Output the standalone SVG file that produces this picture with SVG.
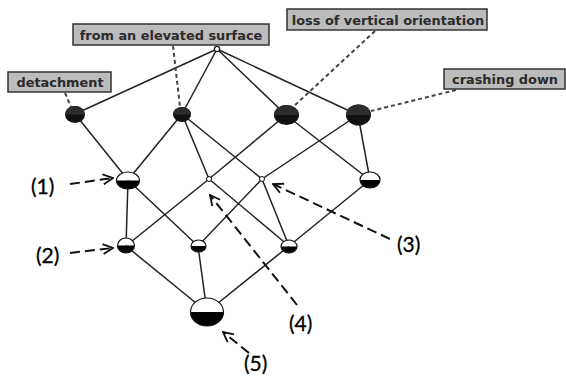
<svg xmlns="http://www.w3.org/2000/svg" width="566" height="377" viewBox="0 0 566 377">
<style>
.e{stroke:#222;stroke-width:1.5;fill:none}
.lead{stroke:#444;stroke-width:2;stroke-dasharray:4 3;fill:none}
.arr{stroke:#111;stroke-width:2;stroke-dasharray:10 5;fill:none;marker-end:url(#ah)}
.box{fill:#bcbcbc;stroke:#333;stroke-width:1.5}
.bt{font-family:"DejaVu Sans",sans-serif;font-weight:bold;font-size:12.9px;fill:#2b2b2b;text-anchor:middle}
.num{font-family:Lato,"Open Sans",sans-serif;font-size:21px;fill:#000;stroke:#000;stroke-width:0.3}
.w{fill:#fff}
.k{fill:#000}
.o{fill:none;stroke:#111;stroke-width:1.2}
</style>
<defs>
<marker id="ah" viewBox="0 0 12 12" refX="11" refY="6" markerWidth="12" markerHeight="12" markerUnits="userSpaceOnUse" orient="auto">
<path d="M1,1 L11,6 L1,11" fill="none" stroke="#111" stroke-width="1.8"/>
</marker>
</defs>
<g id="connectors">
<line class="e" x1="217" y1="49" x2="75" y2="114"/>
<line class="e" x1="217" y1="49" x2="182" y2="114"/>
<line class="e" x1="217" y1="49" x2="286" y2="115"/>
<line class="e" x1="217" y1="49" x2="358" y2="115"/>
<line class="e" x1="75" y1="114" x2="128" y2="180"/>
<line class="e" x1="182" y1="114" x2="128" y2="180"/>
<line class="e" x1="182" y1="114" x2="209" y2="179"/>
<line class="e" x1="182" y1="114" x2="262" y2="179"/>
<line class="e" x1="286" y1="115" x2="209" y2="179"/>
<line class="e" x1="286" y1="115" x2="370" y2="180"/>
<line class="e" x1="358" y1="115" x2="262" y2="179"/>
<line class="e" x1="358" y1="115" x2="370" y2="180"/>
<line class="e" x1="128" y1="180" x2="126" y2="246"/>
<line class="e" x1="128" y1="180" x2="198" y2="246"/>
<line class="e" x1="209" y1="179" x2="126" y2="246"/>
<line class="e" x1="209" y1="179" x2="289" y2="246"/>
<line class="e" x1="262" y1="179" x2="198" y2="246"/>
<line class="e" x1="262" y1="179" x2="289" y2="246"/>
<line class="e" x1="370" y1="180" x2="289" y2="246"/>
<line class="e" x1="126" y1="246" x2="207" y2="312"/>
<line class="e" x1="198" y1="246" x2="207" y2="312"/>
<line class="e" x1="289" y1="246" x2="207" y2="312"/>
<line class="lead" x1="65" y1="93" x2="71" y2="107"/>
<line class="lead" x1="173" y1="46" x2="180" y2="107"/>
<line class="lead" x1="375" y1="31" x2="293" y2="107"/>
<line class="lead" x1="456" y1="90" x2="371" y2="111"/>
<line class="arr" x1="70" y1="184" x2="113" y2="178"/>
<line class="arr" x1="70" y1="253" x2="113" y2="248"/>
<line class="arr" x1="390" y1="239" x2="273" y2="184"/>
<line class="arr" x1="297" y1="305" x2="210" y2="195"/>
<line class="arr" x1="249" y1="353" x2="223" y2="332"/>
</g>
<g id="top"><circle cx="217" cy="49" r="2.6" fill="#fff" stroke="#111" stroke-width="1.2"/></g>
<g id="detachment">
<ellipse cx="75" cy="114.5" rx="10" ry="8.5" fill="#111"/>
<path d="M65,114.5 A10,8.5 0 0 1 85,114.5 Z" fill="#2c2c2c"/>
<rect class="box" x="8" y="72" width="103" height="20"/>
<text class="bt" x="60" y="87">detachment</text>
</g>
<g id="elevated">
<ellipse cx="182" cy="114.5" rx="9" ry="7.5" fill="#111"/>
<path d="M173,114.5 A9,7.5 0 0 1 191,114.5 Z" fill="#2c2c2c"/>
<rect class="box" x="73" y="24" width="196" height="21"/>
<text class="bt" x="171" y="40">from an elevated surface</text>
</g>
<g id="loss">
<ellipse cx="286.5" cy="115" rx="12.5" ry="10" fill="#111"/>
<path d="M274,115 A12.5,10 0 0 1 299,115 Z" fill="#2c2c2c"/>
<rect class="box" x="287" y="9" width="200" height="21"/>
<text class="bt" x="388" y="25">loss of vertical orientation</text>
</g>
<g id="crashing">
<ellipse cx="358.5" cy="115" rx="12.5" ry="10.5" fill="#111"/>
<path d="M346,115 A12.5,10.5 0 0 1 371,115 Z" fill="#2c2c2c"/>
<rect class="box" x="444" y="69" width="121" height="20"/>
<text class="bt" x="505" y="84">crashing down</text>
</g>
<g id="n1">
<path class="w" d="M116.5,180.5 A11.5,8.5 0 0 1 139.5,180.5 Z"/>
<path class="k" d="M116.5,180.5 A11.5,8.5 0 0 0 139.5,180.5 Z"/>
<ellipse class="o" cx="128" cy="180.5" rx="11.5" ry="8.5"/>
<text class="num" x="31" y="194">(1)</text>
</g>
<g id="n4"><circle cx="209" cy="179" r="2.5" fill="#fff" stroke="#111" stroke-width="1"/>
<text class="num" x="289" y="331">(4)</text></g>
<g id="n3"><circle cx="262" cy="179" r="2.5" fill="#fff" stroke="#111" stroke-width="1"/>
<text class="num" x="397" y="252">(3)</text></g>
<g id="nLC">
<path class="w" d="M360,180 A10,8 0 0 1 380,180 Z"/>
<path class="k" d="M360,180 A10,8 0 0 0 380,180 Z"/>
<ellipse class="o" cx="370" cy="180" rx="10" ry="8"/>
</g>
<g id="n2">
<path class="w" d="M117.5,245.5 A8.5,7.5 0 0 1 134.5,245.5 Z"/>
<path class="k" d="M117.5,245.5 A8.5,7.5 0 0 0 134.5,245.5 Z"/>
<ellipse class="o" cx="126" cy="245.5" rx="8.5" ry="7.5"/>
<text class="num" x="36" y="263">(2)</text>
</g>
<g id="nDEC">
<path class="w" d="M191,246 A7.5,6 0 0 1 206,246 Z"/>
<path class="k" d="M191,246 A7.5,6 0 0 0 206,246 Z"/>
<ellipse class="o" cx="198.5" cy="246" rx="7.5" ry="6"/>
</g>
<g id="nELC">
<path class="w" d="M281,246.5 A8,6.5 0 0 1 297,246.5 Z"/>
<path class="k" d="M281,246.5 A8,6.5 0 0 0 297,246.5 Z"/>
<ellipse class="o" cx="289" cy="246.5" rx="8" ry="6.5"/>
</g>
<g id="n5">
<path class="w" d="M190.5,312 A16.5,14 0 0 1 223.5,312 Z"/>
<path class="k" d="M190.5,312 A16.5,14 0 0 0 223.5,312 Z"/>
<ellipse class="o" cx="207" cy="312" rx="16.5" ry="14"/>
<text class="num" x="244" y="371">(5)</text>
</g>
</svg>
